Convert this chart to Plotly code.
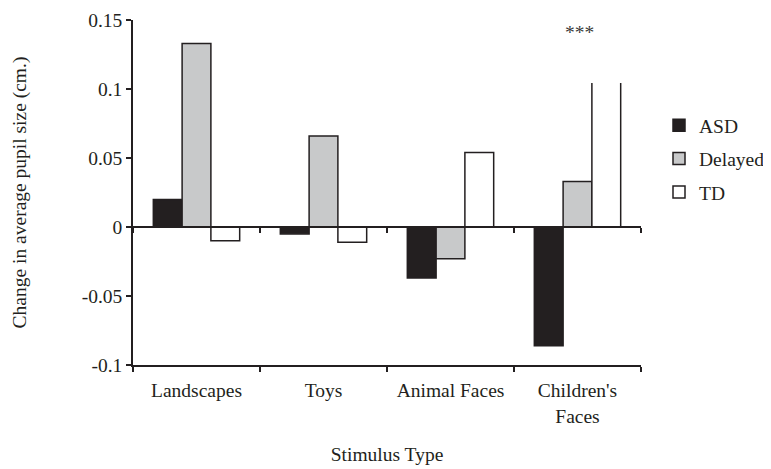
import plotly.graph_objects as go

categories = ["Landscapes", "Toys", "Animal Faces", "Children's Faces"]
category_labels = ["Landscapes", "Toys", "Animal Faces", "Children's<br>Faces"]
asd = [0.020, -0.005, -0.037, -0.086]
delayed = [0.133, 0.066, -0.023, 0.033]
td = [-0.010, -0.011, 0.054, 0.105]
series_names = ["ASD", "Delayed", "TD"]
series_colors = ["#231f20", "#c8c9ca", "#ffffff"]
y_ticks = [0.15, 0.1, 0.05, 0, -0.05, -0.1]
y_tick_labels = ["0.15", "0.1", "0.05", "0", "-0.05", "-0.1"]
significance = "***"

FONT = "Liberation Serif, Times New Roman, serif"
FS = 19.5
INK = "#231f20"
W, H = 790, 469

fig = go.Figure()
for name, vals, col in zip(series_names, [asd, delayed, td], series_colors):
    fig.add_trace(go.Bar(
        x=categories, y=vals, name=name, legendgroup=name,
        marker=dict(color=col, line=dict(color=INK, width=1.5)),
    ))

# invisible trace to carry the zero-level category axis
fig.add_trace(go.Scatter(x=categories, y=[None] * len(categories), xaxis="x2",
                         showlegend=False, hoverinfo="skip", mode="markers"))

axis_common = dict(
    type="category", categoryorder="array", categoryarray=categories,
    range=[-0.5, len(categories) - 0.5], showline=True, linecolor=INK, linewidth=1.5,
    ticks="outside", tickson="boundaries", ticklen=5, tickwidth=1.5, tickcolor=INK,
    showgrid=False, zeroline=False, automargin=False,
)

fig.update_layout(
    width=W, height=H,
    paper_bgcolor="white", plot_bgcolor="white",
    margin=dict(l=125, r=W - 633, t=12, b=112),
    font=dict(family=FONT, size=FS, color=INK),
    barmode="group", bargap=0.32, bargroupgap=0,
    xaxis=dict(**axis_common, tickvals=categories, ticktext=category_labels,
               tickfont=dict(family=FONT, size=FS, color=INK), ticklabelstandoff=7,
               title=dict(text="Stimulus Type", font=dict(family=FONT, size=FS, color=INK), standoff=22)),
    xaxis2=dict(**axis_common, overlaying="x", anchor="free", position=0.4,
                showticklabels=False),
    yaxis=dict(range=[-0.1, 0.15], tickvals=y_ticks, ticktext=y_tick_labels,
               showline=True, linecolor=INK, linewidth=1.5, ticks="outside", ticklen=5,
               tickwidth=1.5, tickcolor=INK, showgrid=False, zeroline=False, automargin=False,
               tickfont=dict(family=FONT, size=FS, color=INK),
               title=dict(text="Change in average pupil size (cm.)",
                          font=dict(family=FONT, size=FS, color=INK), standoff=50)),
    legend=dict(xref="container", yref="container", x=651 / W, y=0.678,
                xanchor="left", yanchor="middle",
                font=dict(family=FONT, size=FS, color=INK), tracegroupgap=5,
                traceorder="grouped", bgcolor="rgba(0,0,0,0)"),
    showlegend=True,
)

# white text box behind the significance marker (covers the top of the open bar)
fig.add_shape(type="rect", xref="x", yref="y", x0=3.05, x1=3.42, y0=0.1043, y1=0.152,
              fillcolor="white", line=dict(width=0), layer="above")
fig.add_annotation(x=categories[3], y=0.141, xref="x", yref="y", text=significance,
                   showarrow=False, xshift=2, font=dict(family=FONT, size=FS, color="#3a3a3a"))

fig.write_html("out.html")
